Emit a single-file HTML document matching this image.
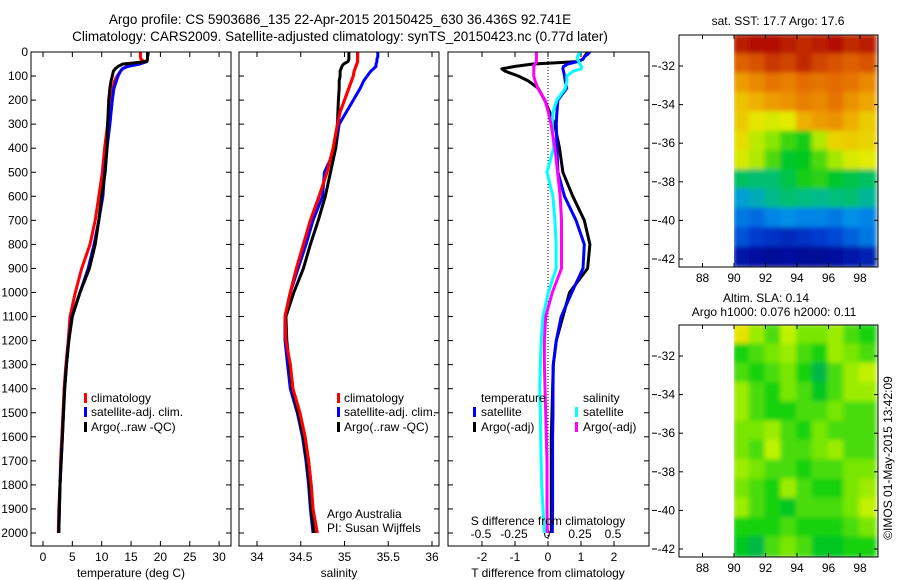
<!DOCTYPE html>
<html><head><meta charset="utf-8"><style>
html,body{margin:0;padding:0;background:#fff;}
svg{display:block;font-family:"Liberation Sans",sans-serif;}
text{font-size:12px;fill:#000;}
</style></head><body>
<svg id="chart" width="900" height="580" viewBox="0 0 900 580" xmlns="http://www.w3.org/2000/svg">
<text x="340" y="24" text-anchor="middle" style="font-size:13.5px">Argo profile: CS 5903686_135 22-Apr-2015 20150425_630 36.436S 92.741E</text>
<text x="340" y="41" text-anchor="middle" style="font-size:13.5px">Climatology: CARS2009. Satellite-adjusted climatology: synTS_20150423.nc (0.77d later)</text>
<g id="g"></g>
</svg>
<script>
// ---------- data ----------
const depths = [0,10,20,30,40,50,60,70,80,100,120,150,200,250,300,400,500,600,700,800,900,1000,1100,1200,1300,1400,1500,1600,1700,1800,1900,2000];
const tempClim = [16.6,16.6,16.6,16.7,17.3,15.0,14.2,13.6,13.2,12.6,12.2,11.9,11.6,11.3,11.0,10.5,10.1,9.5,8.9,8.0,6.6,5.5,4.6,4.3,3.9,3.6,3.4,3.2,3.0,2.9,2.7,2.6];
const tempSat  = [17.8,17.8,17.8,17.8,17.7,16.5,14.5,13.5,13.2,12.8,12.5,12.1,11.8,11.6,11.4,10.9,10.5,10.2,9.5,8.7,7.7,6.3,4.9,4.4,4.0,3.7,3.5,3.3,3.1,2.9,2.8,2.7];
const tempArgo = [17.9,17.9,17.8,17.8,17.6,13.6,12.8,12.3,12.0,11.8,11.6,11.4,11.2,11.1,11.0,10.9,10.6,10.0,9.5,8.9,7.9,6.3,5.0,4.4,4.0,3.7,3.5,3.3,3.1,2.9,2.8,2.7];
const salClim = [35.15,35.15,35.15,35.15,35.15,35.14,35.13,35.12,35.11,35.10,35.08,35.05,35.00,34.95,34.92,34.87,34.80,34.71,34.61,34.53,34.45,34.38,34.32,34.33,34.38,34.41,34.49,34.55,34.59,34.62,34.64,34.67];
const salSat  = [35.38,35.38,35.38,35.37,35.37,35.36,35.36,35.33,35.30,35.26,35.22,35.18,35.10,35.02,34.94,34.90,34.77,34.75,34.64,34.56,34.47,34.38,34.32,34.32,34.35,34.38,34.46,34.52,34.56,34.59,34.61,34.64];
const salArgo = [35.05,35.05,35.05,35.05,35.04,34.99,34.97,34.96,34.95,34.95,34.94,34.94,34.93,34.925,34.92,34.90,34.84,34.78,34.70,34.61,34.53,34.42,34.33,34.34,34.37,34.40,34.47,34.53,34.57,34.60,34.62,34.65];
const dTSat  = [1.27,1.2,1.1,1.06,0.9,0.6,0.47,0.45,0.47,0.5,0.52,0.57,0.3,0.27,0.25,0.27,0.3,0.5,0.85,1.1,1.06,0.72,0.4,0.25,0.16,0.15,0.15,0.14,0.14,0.14,0.14,0.13];
const dTArgo = [1.2,1.15,1.1,1.06,0.9,-0.45,-1.0,-1.4,-1.3,-0.9,-0.6,-0.3,-0.1,0.05,0.2,0.35,0.45,0.75,1.1,1.27,1.2,0.65,0.45,0.25,0.16,0.14,0.12,0.1,0.1,0.1,0.1,0.1];
const dSSat  = [0.25,0.24,0.23,0.23,0.24,0.25,0.26,0.26,0.2,0.15,0.15,0.14,0.075,0.045,0.04,0.05,0.0,0.045,0.06,0.07,0.07,0.01,-0.03,-0.045,-0.05,-0.055,-0.05,-0.048,-0.045,-0.04,-0.03,-0.02];
const dSArgo = [-0.08,-0.08,-0.08,-0.08,-0.08,-0.09,-0.1,-0.1,-0.1,-0.1,-0.09,-0.07,-0.015,0.01,0.03,0.06,0.08,0.1,0.11,0.11,0.11,0.04,-0.01,-0.02,-0.02,-0.015,-0.01,-0.005,0.0,0.0,0.0,0.002];
const sstGrid = [
[18.9,19,19,18.9,18.8,18.9,19,18.8,18.9],
[18.4,18.5,18.7,18.6,18.8,18.6,18.5,18.4,18.5],
[17.8,18,18.2,18.1,18.3,18.2,18.3,18.2,18],
[17.4,17.6,17.8,17.9,18.1,18,18.2,17.9,17.7],
[17.3,17.0,16.8,16.9,17.6,17.8,17.9,17.6,17.3],
[17.1,16.6,16.2,15.8,15.6,16.5,17.2,17.3,17.2],
[16.8,16.5,15.9,15.4,15.5,15.9,16.4,16.8,16.9],
[15.0,14.9,14.9,15.2,15.6,15.7,15.4,15.2,15.0],
[14.2,14.4,14.7,14.9,14.8,14.7,14.8,14.9,14.6],
[13.8,13.7,13.9,14.0,13.9,13.9,13.8,14.0,13.9],
[13.5,13.3,13.2,13.1,13.2,13.3,13.4,13.6,13.8],
[12.9,12.8,12.7,12.8,12.7,12.7,12.8,12.9,13.0]];
const slaGrid = [
[0.9,0.6,0.4,0.7,0.5,0.5,0.6,0.4,0.3],
[0.3,0.4,0.5,0.6,0.4,0.3,0.6,0.5,0.4],
[0.4,0.3,0.4,0.5,0.3,0.1,0.4,0.6,0.7],
[0.6,0.4,0.3,0.5,0.4,0.2,0.4,0.6,0.6],
[0.6,0.4,0.3,0.3,0.4,0.4,0.5,0.4,0.4],
[0.5,0.5,0.6,0.4,0.3,0.5,0.4,0.4,0.4],
[0.5,0.4,0.7,0.4,0.4,0.5,0.6,0.4,0.4],
[0.6,0.5,0.4,0.4,0.3,0.4,0.4,0.5,0.5],
[0.5,0.4,0.3,0.6,0.4,0.3,0.3,0.5,0.6],
[0.6,0.4,0.3,0.2,0.4,0.4,0.4,0.5,0.7],
[0.3,0.3,0.3,0.4,0.3,0.3,0.3,0.4,0.5],
[0.2,0.1,0.4,0.5,0.4,0.2,0.2,0.3,0.3]];
const depthTicks = [0,100,200,300,400,500,600,700,800,900,1000,1100,1200,1300,1400,1500,1600,1700,1800,1900,2000];
const tempTicks = [0,5,10,15,20,25,30];
const salTicks = [34,34.5,35,35.5,36];
const salTickLabels = ["34","34.5","35","35.5","36"];
const dTTicks = [-2,-1,0,1,2];
const dSTicks = [-0.5,-0.25,0,0.25,0.5];
const dSTickLabels = ["-0.5","-0.25","0","0.25","0.5"];
const lonTicks = [88,90,92,94,96,98];
const latTicks = [-32,-34,-36,-38,-40,-42];

// ---------- helpers ----------
const NS="http://www.w3.org/2000/svg";
const G=document.getElementById('g');
function el(tag,attrs,parent){const e=document.createElementNS(NS,tag);for(const k in attrs)e.setAttribute(k,attrs[k]);(parent||G).appendChild(e);return e;}
const yD = d => 52 + d*0.2405;
const xT = t => 43 + t*5.87;
const xS = s => 257 + (s-34)*87.5;
const xDT = v => 548 + v*33;
const xDS = v => 547 + v*132;

function box(x0,x1,y0,y1,name){
  const r=el('rect',{x:x0,y:y0,width:x1-x0,height:y1-y0,fill:'none',stroke:'#000','stroke-width':1});
  
  
}
function depthAxis(x0,x1,labels){
  depthTicks.forEach(d=>{
    const y=yD(d);
    el('line',{x1:x0,x2:x0+5,y1:y,y2:y,stroke:'#000'});
    el('line',{x1:x1-5,x2:x1,y1:y,y2:y,stroke:'#000'});
    if(labels){const t=el('text',{x:x0-3,y:y+4,'text-anchor':'end'});t.textContent=d;
      
      }
  });
}
function xAxis(ticks,labels,fx,yb,yt,ylab){
  ticks.forEach((v,i)=>{
    const x=fx(v);
    el('line',{x1:x,x2:x,y1:yb,y2:yb-5,stroke:'#000'});
    if(yt!==null) el('line',{x1:x,x2:x,y1:yt,y2:yt+5,stroke:'#000'});
    const t=el('text',{x:x,y:ylab,'text-anchor':'middle'});t.textContent=labels[i];
    
    
  });
}
function line(vals,fx,color,name,clipId){
  const pts=depths.map((d,i)=>fx(vals[i]).toFixed(1)+','+yD(d).toFixed(1)).join(' ');
  const p=el('polyline',{points:pts,fill:'none',stroke:color,'stroke-width':3,'stroke-linejoin':'round','clip-path':'url(#'+clipId+')'});
  
  
}
function txt(x,y,s,name,anchor,size){
  const t=el('text',{x:x,y:y,'text-anchor':anchor||'start'});if(size)t.style.fontSize=size+'px';t.textContent=s;
  
  
  return t;
}
function legendMark(x,y,color){el('rect',{x:x,y:y-9,width:3,height:10,fill:color});}

const defs=el('defs',{});
[['c1',31,231],['c2',239,439],['c3',448,649]].forEach(([id,a,b])=>{
  const c=el('clipPath',{id:id},defs);el('rect',{x:a,y:52,width:b-a,height:494},c);});
const bl=el('filter',{id:'blur',x:'-5%',y:'-5%',width:'110%',height:'110%'},defs);
el('feGaussianBlur',{stdDeviation:2.5},bl);

// ---------- panel 1 temperature ----------
depthAxis(31,231,true);
xAxis(tempTicks,tempTicks.map(String),xT,546,52,561);
line(tempClim,xT,'#f00','temp-climatology-line','c1');
line(tempSat,xT,'#00f','temp-satellite-line','c1');
line(tempArgo,xT,'#000','temp-argo-line','c1');
box(31,231,52,546,'temperature-panel');
txt(131,577,'temperature (deg C)','temperature-axis-title','middle');
legendMark(84,402,'#f00');txt(91,402,'climatology','legend-climatology');
legendMark(84,416,'#00f');txt(91,416,'satellite-adj. clim.','legend-satellite-adj');
legendMark(84,431,'#000');txt(91,431,'Argo(..raw -QC)','legend-argo-raw');

// ---------- panel 2 salinity ----------
depthAxis(239,439,false);
xAxis(salTicks,salTickLabels,xS,546,52,561);
line(salClim,xS,'#f00','sal-climatology-line','c2');
line(salSat,xS,'#00f','sal-satellite-line','c2');
line(salArgo,xS,'#000','sal-argo-line','c2');
line(salClim.map((v,i)=>i===depths.length-1?v+0.02:v),xS,'#f00','sal-climatology-deep','c2');
box(239,439,52,546,'salinity-panel');
txt(339,577,'salinity','salinity-axis-title','middle');
legendMark(337,402,'#f00');txt(344,402,'climatology','legend-climatology-2');
legendMark(337,416,'#00f');txt(344,416,'satellite-adj. clim.','legend-satellite-adj-2');
legendMark(337,431,'#000');txt(344,431,'Argo(..raw -QC)','legend-argo-raw-2');
txt(327,518,'Argo Australia','credit-argo-australia');
txt(327,532,'PI: Susan Wijffels','credit-pi');

// ---------- panel 3 differences ----------
depthAxis(448,649,false);
xAxis(dTTicks,dTTicks.map(String),xDT,546,52,561);
dSTicks.forEach((v,i)=>{txt(xDS(v),538,dSTickLabels[i],'s-diff-tick-label','middle');});
el('line',{x1:548,x2:548,y1:52,y2:546,stroke:'#000','stroke-dasharray':'1,2'});
line(dTArgo,xDT,'#000','t-diff-argo-line','c3');
line(dTSat,xDT,'#00f','t-diff-satellite-line','c3');
line(dSSat,xDS,'#0ff','s-diff-satellite-line','c3');
line(dSArgo,xDS,'#f0f','s-diff-argo-line','c3');
box(448,649,52,546,'difference-panel');
txt(548,577,'T difference from climatology','t-diff-axis-title','middle');
txt(548,525,'S difference from climatology','s-diff-axis-title','middle');
txt(481,402,'temperature','legend-temperature-heading');
legendMark(473,416,'#00f');txt(481,416,'satellite','legend-t-satellite');
legendMark(473,431,'#000');txt(481,431,'Argo(-adj)','legend-t-argo');
txt(583,402,'salinity','legend-salinity-heading');
legendMark(575,416,'#0ff');txt(583,416,'satellite','legend-s-satellite');
legendMark(575,431,'#f0f');txt(583,431,'Argo(-adj)','legend-s-argo');

// ---------- maps ----------
const xLon = lon => 734 + (lon-90)*15.75;
function lerpStops(stops,t){
  t=Math.max(0,Math.min(1,t));const n=stops.length-1;const i=Math.min(n-1,Math.floor(t*n));const f=t*n-i;
  const a=stops[i],b=stops[i+1];return 'rgb('+a.map((v,k)=>Math.round(v+(b[k]-v)*f)).join(',')+')';
}
const sstStops=[[0,0,140],[0,60,210],[0,150,235],[0,190,130],[0,200,30],[140,230,0],[230,235,0],[240,170,0],[225,100,0],[170,0,0]];
const slaStops=[[0,170,100],[0,205,20],[120,230,0],[210,245,0],[245,215,0]];
function map(y0,y1,yLatFn,grid,colorFn,name,clipId){
  const c=el('clipPath',{id:clipId},defs);el('rect',{x:734,y:y0,width:144,height:y1-y0},c);
  const g=el('g',{'clip-path':'url(#'+clipId+')'});
  const g2=el('g',{filter:'url(#blur)'},g);
  grid.forEach((row,r)=>row.forEach((v,cI)=>{
    const latTop=-30.4-r, latBot=-31.4-r;
    const yA=yLatFn(latTop), yB=yLatFn(latBot);
    const cell=el('rect',{x:xLon(90+cI)-1,y:yA-1,width:xLon(91+cI)-xLon(90+cI)+2,height:yB-yA+2,fill:colorFn(v)},g2);
    
    
  }));
  box(679,878,y0,y1,name);
  lonTicks.forEach(l=>{const x=xLon(l);el('line',{x1:x,x2:x,y1:y1,y2:y1-4,stroke:'#000'});el('line',{x1:x,x2:x,y1:y0,y2:y0+4,stroke:'#000'});
    txt(x,y1+15,String(l),'lon-tick-label','middle');});
  latTicks.forEach(l=>{const y=yLatFn(l);el('line',{x1:679,x2:683,y1:y,y2:y,stroke:'#000'});el('line',{x1:874,x2:878,y1:y,y2:y,stroke:'#000'});
    el('line',{x1:652,x2:657,y1:y,y2:y,stroke:'#000'});
    txt(675,y+4,String(l),'lat-tick-label','end');});
}
map(35,267,lat=>66+(-32-lat)*19.3,sstGrid,v=>lerpStops(sstStops,(v-12.6)/(19.1-12.6)),'sst-map','cm1');
map(325,557,lat=>356+(-32-lat)*19.3,slaGrid,v=>lerpStops(slaStops,v),'sla-map','cm2');
txt(778,25,'sat. SST: 17.7 Argo: 17.6','sst-map-title','middle');
txt(766,302,'Altim. SLA: 0.14','sla-map-title-1','middle');
txt(774,316,'Argo h1000: 0.076 h2000: 0.11','sla-map-title-2','middle');
const ts=txt(0,0,'\u00A9IMOS 01-May-2015 13:42:09','timestamp','middle');
ts.setAttribute('transform','translate(892,458) rotate(-90)');
</script>
</body></html>
